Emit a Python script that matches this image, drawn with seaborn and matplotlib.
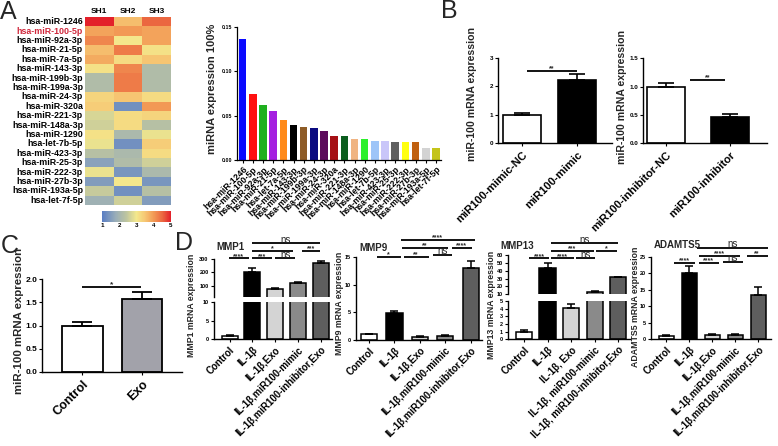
import numpy as np
import pandas as pd
import matplotlib
matplotlib.use("Agg")
import matplotlib.pyplot as plt
import seaborn as sns
from matplotlib.colors import LinearSegmentedColormap
from matplotlib.transforms import blended_transform_factory

# ---------------- data ----------------
mirnas = ["hsa-miR-1246", "hsa-miR-100-5p", "hsa-miR-92a-3p", "hsa-miR-21-5p", "hsa-miR-7a-5p",
          "hsa-miR-143-3p", "hsa-miR-199b-3p", "hsa-miR-199a-3p", "hsa-miR-24-3p", "hsa-miR-320a",
          "hsa-miR-221-3p", "hsa-miR-148a-3p", "hsa-miR-1290", "hsa-let-7b-5p", "hsa-miR-423-3p",
          "hsa-miR-25-3p", "hsa-miR-222-3p", "hsa-miR-27b-3p", "hsa-miR-193a-5p", "hsa-let-7f-5p"]
samples = ["SH1", "SH2", "SH3"]
sh1 = [5.0, 3.9, 4.2, 3.6, 3.8, 3.1, 2.2, 2.2, 3.3, 3.4, 2.7, 2.6, 3.1, 2.9, 2.3, 1.6, 2.9, 1.5, 2.5, 1.9]
sh2 = [3.6, 4.0, 3.0, 4.3, 3.2, 4.2, 4.3, 4.3, 3.5, 1.3, 3.2, 3.2, 2.1, 1.3, 2.1, 2.2, 1.4, 3.0, 1.3, 2.6]
sh3 = [4.5, 3.9, 3.9, 3.1, 3.5, 2.2, 2.2, 2.2, 3.2, 4.0, 3.3, 2.3, 2.9, 3.4, 3.2, 2.6, 2.1, 1.4, 2.3, 1.5]

bar_mirnas = ["hsa-miR-1246", "hsa-miR-100-5p", "hsa-miR-92a-3p", "hsa-miR-21-5p", "hsa-let-7a-5p",
              "hsa-miR-143-3p", "hsa-miR-199b-3p", "hsa-miR-199a-3p", "hsa-miR-24-3p", "hsa-miR-320a",
              "hsa-miR-221-3p", "hsa-miR-148a-3p", "hsa-miR-1290", "hsa-let-7b-5p", "hsa-miR-423-3p",
              "hsa-miR-25-3p", "hsa-miR-222-3p", "hsa-miR-27b-3p", "hsa-miR-193a-5p", "hsa-let-7f-5p"]
mirna_expr = [0.137, 0.074, 0.062, 0.055, 0.045, 0.039, 0.037, 0.036, 0.033, 0.027,
              0.027, 0.024, 0.024, 0.0215, 0.0215, 0.0205, 0.0205, 0.0205, 0.0135, 0.0135]
mirna_colors = ["#0a0aff", "#ff1010", "#1fb01f", "#a51fe0", "#ff8a1a", "#000000", "#8e5c26",
                "#0a0a80", "#5c0a5c", "#a50f15", "#0b5d1e", "#f0b482", "#2cf02c", "#9ec5f8",
                "#c9c6f9", "#606060", "#ffff10", "#c0600f", "#d3d3d3", "#c4c41a"]

mimic_groups = ["miR100-mimic-NC", "miR100-mimic"]
mimic_vals = [1.0, 2.24]
mimic_err = [0.08, 0.19]
inhib_groups = ["miR100-inhibitor-NC", "miR100-inhibitor"]
inhib_vals = [0.99, 0.46]
inhib_err = [0.07, 0.05]

exo_groups = ["Control", "Exo"]
exo_vals = [1.0, 1.57]
exo_err = [0.08, 0.14]

d_groups = ["Control", "IL-1β", "IL-1β,Exo", "IL-1β,miR100-mimic", "IL-1β,miR100-inhibitor,Exo"]
d_groups_13 = ["Control", "IL-1β", "IL-1β, Exo", "IL-1β, miR100-mimic", "IL-1β, miR100-inhibitor,Exo"]
d_colors = ["#ffffff", "#000000", "#d4d4d4", "#8a8a8a", "#5e5e5e"]
mmp1_vals = [1.0, 200.0, 72.0, 123.0, 272.0]
mmp1_err = [0.15, 33.0, 12.0, 4.0, 12.0]
mmp9_vals = [1.0, 4.95, 0.6, 0.75, 13.0]
mmp9_err = [0.1, 0.35, 0.08, 0.12, 1.3]
mmp13_vals = [1.0, 44.0, 4.1, 13.3, 31.5]
mmp13_err = [0.15, 5.5, 0.5, 1.0, 0.7]
adamts5_vals = [1.0, 20.0, 1.4, 1.3, 13.4]
adamts5_err = [0.2, 2.4, 0.2, 0.2, 2.5]

# ---------------- style ----------------
sns.set_theme(style="ticks")
plt.rcParams["font.family"] = ["Liberation Sans", "DejaVu Sans"]
plt.rcParams["font.weight"] = "bold"
plt.rcParams["axes.labelweight"] = "bold"
plt.rcParams["axes.edgecolor"] = "black"
plt.rcParams["xtick.color"] = "black"
plt.rcParams["ytick.color"] = "black"

W, H = 778, 446
fig = plt.figure(figsize=(W / 100, H / 100), dpi=100)
fig.patch.set_facecolor("white")


def rect(x0, y0, x1, y1):
    return [x0 / W, 1 - y1 / H, (x1 - x0) / W, (y1 - y0) / H]


def fy(ypx):
    return 1 - ypx / H


def style_ax(ax, fs=4.5, lw=1.0):
    sns.despine(ax=ax)
    ax.tick_params(axis="both", direction="out", length=2.5, width=0.8, pad=1, labelsize=fs)
    for s in ("left", "bottom"):
        ax.spines[s].set_linewidth(lw)
        ax.spines[s].set_color("black")
    ax.set_xlabel("")
    ax.set_ylabel("")


def bars(ax, labels, vals, colors, width, edge=True, lw=1.1):
    sns.barplot(x=labels, y=vals, hue=labels, order=labels, hue_order=labels, palette=colors,
                width=width, errorbar=None, legend=False, ax=ax, saturation=1,
                edgecolor="black" if edge else "none", linewidth=lw if edge else 0)


def errs(ax, vals, err, cap=3, lw=1.1):
    ax.errorbar(np.arange(len(vals)), vals, yerr=[np.zeros(len(vals)), err], fmt="none",
                ecolor="black", elinewidth=lw, capsize=cap, capthick=lw, zorder=3)


def sig(ax, i, j, ypx, text, fs=5, lw=1.3):
    tr = blended_transform_factory(ax.transData, fig.transFigure)
    ax.plot([i, j], [fy(ypx), fy(ypx)], transform=tr, color="black", lw=lw,
            clip_on=False, solid_capstyle="butt")
    if text == "ns":
        ax.text((i + j) / 2, fy(ypx) + 0.6 / H, text, transform=tr, ha="center", va="baseline",
                fontsize=7, fontweight="normal", clip_on=False)
    else:
        ax.text((i + j) / 2, fy(ypx) + 0.5 / H, text, transform=tr, ha="center", va="baseline",
                fontsize=fs, fontweight="bold", clip_on=False)


def letter(x, y, t):
    fig.text(x / W, fy(y), t, fontsize=18, fontweight="normal", ha="left", va="baseline")


# ---------------- panel A: heatmap ----------------
cmap = LinearSegmentedColormap.from_list(
    "hm", [(0.0, "#5a7ec4"), (0.2, "#9aaeb8"), (0.35, "#bcc4a0"), (0.5, "#f4e88c"),
           (0.62, "#f6c874"), (0.75, "#f29a55"), (0.88, "#eb6640"), (1.0, "#e3202a")])
ax_hm = fig.add_axes(rect(85, 17, 171, 205))
cax = fig.add_axes(rect(102, 211, 171, 222))
df = pd.DataFrame({"SH1": sh1, "SH2": sh2, "SH3": sh3}, index=mirnas)
sns.heatmap(df, ax=ax_hm, cmap=cmap, vmin=1, vmax=5, cbar_ax=cax,
            xticklabels=True, yticklabels=True,
            cbar_kws={"orientation": "horizontal", "ticks": [1, 2, 3, 4, 5]})
ax_hm.xaxis.tick_top()
ax_hm.set_xticks(np.arange(len(samples)) + 0.5)
ax_hm.set_xticklabels(samples, fontsize=6, fontweight="bold")
ax_hm.set_yticks(np.arange(len(mirnas)) + 0.5)
ax_hm.set_yticklabels(mirnas, fontsize=6.4, fontweight="bold", rotation=0)
ax_hm.tick_params(length=0, pad=1.5)
for lab in ax_hm.get_yticklabels():
    if lab.get_text() == "hsa-miR-100-5p":
        lab.set_color("#d0283c")
ax_hm.set_xlabel("")
ax_hm.set_ylabel("")
cax.tick_params(length=0, labelsize=4.5, pad=1)
for sp in cax.spines.values():
    sp.set_visible(False)
cb = ax_hm.collections[0].colorbar
if cb is not None:
    cb.outline.set_linewidth(0)

# ---------------- panel A: bar chart ----------------
ax_a = fig.add_axes(rect(237, 27, 441, 160))
bars(ax_a, bar_mirnas, mirna_expr, mirna_colors, 0.74, edge=False)
style_ax(ax_a, fs=3.8, lw=0.9)
ax_a.set_ylim(0, 0.15)
ax_a.set_xlim(-0.56, 19.5)
ax_a.set_yticks([0, 0.05, 0.10, 0.15])
ax_a.set_yticklabels(["0.00", "0.05", "0.10", "0.15"])
ax_a.set_xticks(range(len(bar_mirnas)))
ax_a.set_xticklabels(bar_mirnas, rotation=45, ha="right", rotation_mode="anchor",
                     fontsize=6.3, fontweight="bold")
ax_a.tick_params(axis="x", length=2, pad=1.5)
fig.text(212 / W, fy(89), "miRNA expression 100%", rotation=90, ha="center", va="center",
         fontsize=8, fontweight="bold")

# ---------------- panel B ----------------
ax_b1 = fig.add_axes(rect(498, 58, 612, 143.3))
bars(ax_b1, mimic_groups, mimic_vals, ["#ffffff", "#000000"], 0.69, lw=1.2)
errs(ax_b1, mimic_vals, mimic_err, cap=6, lw=1.2)
style_ax(ax_b1, fs=4.5)
ax_b1.set_ylim(0, 3)
ax_b1.set_yticks([0, 1, 2, 3])
ax_b1.set_xlim(-0.43, 1.63)
ax_b1.set_xticks(range(2))
ax_b1.set_xticklabels(mimic_groups, rotation=45, ha="right", rotation_mode="anchor",
                      fontsize=8, fontweight="bold")
ax_b1.tick_params(axis="x", pad=2)
sig(ax_b1, 0.1, 1.0, 71, "**", fs=5)
fig.text(472 / W, fy(94), "miR-100 mRNA expression", rotation=90, ha="center", va="center",
         fontsize=7.6, fontweight="bold")

ax_b2 = fig.add_axes(rect(643, 58.3, 767, 143.3))
bars(ax_b2, inhib_groups, inhib_vals, ["#ffffff", "#000000"], 0.59, lw=1.2)
errs(ax_b2, inhib_vals, inhib_err, cap=6, lw=1.2)
style_ax(ax_b2, fs=4.5)
ax_b2.set_ylim(0, 1.5)
ax_b2.set_yticks([0, 0.5, 1.0, 1.5])
ax_b2.set_yticklabels(["0.0", "0.5", "1.0", "1.5"])
ax_b2.set_xlim(-0.36, 1.57)
ax_b2.set_xticks(range(2))
ax_b2.set_xticklabels(inhib_groups, rotation=45, ha="right", rotation_mode="anchor",
                      fontsize=8, fontweight="bold")
ax_b2.tick_params(axis="x", pad=2)
sig(ax_b2, 0.37, 0.92, 80, "**", fs=5)
fig.text(622 / W, fy(97), "miR-100 mRNA expression", rotation=90, ha="center", va="center",
         fontsize=7.6, fontweight="bold")

# ---------------- panel C ----------------
ax_c = fig.add_axes(rect(42, 279, 182, 372))
bars(ax_c, exo_groups, exo_vals, ["#ffffff", "#a2a2aa"], 0.68, lw=1.3)
errs(ax_c, exo_vals, exo_err, cap=7, lw=1.3)
style_ax(ax_c, fs=6)
ax_c.set_ylim(0, 2.0)
ax_c.set_yticks([0, 0.5, 1.0, 1.5, 2.0])
ax_c.set_yticklabels(["0.0", "0.5", "1.0", "1.5", "2.0"])
ax_c.set_xlim(-0.675, 1.67)
ax_c.set_xticks(range(2))
ax_c.set_xticklabels(exo_groups, rotation=45, ha="right", rotation_mode="anchor",
                     fontsize=9, fontweight="bold")
ax_c.tick_params(axis="x", pad=2)
sig(ax_c, 0.0, 0.98, 287, "*", fs=6)
fig.text(19 / W, fy(321), "miR-100 mRNA expression", rotation=90, ha="center", va="center",
         fontsize=8.2, fontweight="bold")


# ---------------- panel D ----------------
def xlabels(ax, labels):
    ax.set_xticks(range(len(labels)))
    ax.set_xticklabels(labels, rotation=45, ha="right", rotation_mode="anchor",
                       fontsize=7, fontweight="bold")
    ax.tick_params(axis="x", pad=1.5)


def single_panel(r, labels, vals, err, width, xlim, ylim, yticks):
    ax = fig.add_axes(r)
    bars(ax, labels, vals, d_colors, width)
    errs(ax, vals, err, cap=3.2)
    style_ax(ax, fs=4.0)
    ax.set_ylim(*ylim)
    ax.set_yticks(yticks)
    ax.set_xlim(*xlim)
    xlabels(ax, labels)
    return ax


def broken_panel(r_top, r_bot, labels, vals, err, width, xlim, ylim_top, yt_top, ylim_bot, yt_bot):
    ax_t = fig.add_axes(r_top)
    ax_b = fig.add_axes(r_bot)
    for ax in (ax_t, ax_b):
        bars(ax, labels, vals, d_colors, width)
        errs(ax, vals, err, cap=3.2)
        style_ax(ax, fs=4.0)
        ax.set_xlim(*xlim)
    ax_t.set_ylim(*ylim_top)
    ax_t.set_yticks(yt_top)
    ax_t.spines["bottom"].set_visible(False)
    ax_t.tick_params(axis="x", bottom=False, labelbottom=False)
    ax_b.set_ylim(*ylim_bot)
    ax_b.set_yticks(yt_bot)
    xlabels(ax_b, labels)
    return ax_t, ax_b


# MMP1
m1_t, m1_b = broken_panel(rect(213.5, 259, 332, 297), rect(213.5, 302, 332, 339.3),
                          d_groups, mmp1_vals, mmp1_err, 0.7, (-0.71, 4.49),
                          (15, 300), [100, 200, 300], (0, 10), [0, 5, 10])
sig(m1_t, 0.98, 3.95, 243.5, "ns")
sig(m1_t, 0.98, 2.8, 250.7, "*")
sig(m1_t, 3.17, 3.95, 250.7, "***")
sig(m1_t, -0.05, 0.83, 258.3, "****")
sig(m1_t, 0.98, 1.85, 258.3, "***")
sig(m1_t, 2.0, 2.88, 258.3, "ns")
fig.text(216 / W, fy(250), "MMP1", fontsize=7, fontweight="bold", ha="left", va="baseline")
fig.text(192 / W, fy(305), "MMP1 mRNA expression", rotation=90, ha="center", va="center",
         fontsize=6.3, fontweight="bold")

# MMP9
m9 = single_panel(rect(356, 257, 482, 340), d_groups, mmp9_vals, mmp9_err, 0.64,
                  (-0.51, 4.44), (0, 15), [0, 5, 10, 15])
sig(m9, 1.25, 4.15, 240, "****")
sig(m9, 1.3, 3.1, 248, "**")
sig(m9, 3.25, 4.05, 248, "****")
sig(m9, 0.3, 1.25, 257, "*")
sig(m9, 1.37, 2.34, 257, "**")
sig(m9, 2.5, 3.28, 255, "ns")
fig.text(359 / W, fy(251), "MMP9", fontsize=7, fontweight="bold", ha="left", va="baseline")
fig.text(340 / W, fy(303), "MMP9 mRNA expression", rotation=90, ha="center", va="center",
         fontsize=6.3, fontweight="bold")

# MMP13
m13_t, m13_b = broken_panel(rect(508, 255, 630, 294.3), rect(508, 301, 630, 339.3),
                            d_groups_13, mmp13_vals, mmp13_err, 0.7, (-0.69, 4.5),
                            (10, 60), [10, 20, 30, 40, 50, 60], (0, 5), [0, 1, 2, 3, 4, 5])
sig(m13_t, 1.13, 3.97, 243.5, "ns")
sig(m13_t, 1.13, 2.95, 250.7, "***")
sig(m13_t, 3.07, 3.94, 250.7, "*")
sig(m13_t, 0.21, 1.05, 258.3, "****")
sig(m13_t, 1.16, 2.11, 258.3, "****")
sig(m13_t, 2.22, 3.03, 258.3, "ns")
fig.text(500 / W, fy(249), "MMP13", fontsize=7, fontweight="bold", ha="left", va="baseline")
fig.text(492 / W, fy(305), "MMP13 mRNA expression", rotation=90, ha="center", va="center",
         fontsize=6.3, fontweight="bold")

# ADAMTS5
ad = single_panel(rect(651, 257, 771, 339.3), d_groups, adamts5_vals, adamts5_err, 0.67,
                  (-0.67, 4.55), (0, 25), [0, 5, 10, 15, 20, 25])
sig(ad, 1.35, 4.4, 248, "ns")
sig(ad, 1.4, 3.2, 256, "****")
sig(ad, 3.5, 4.4, 256, "**")
sig(ad, 0.35, 1.25, 263, "****")
sig(ad, 1.4, 2.3, 263, "****")
sig(ad, 2.45, 3.33, 262, "ns")
fig.text(654 / W, fy(248), "ADAMTS5", fontsize=7, fontweight="bold", ha="left", va="baseline")
fig.text(636 / W, fy(307), "ADAMTS5 mRNA expression", rotation=90, ha="center", va="center",
         fontsize=6.3, fontweight="bold")

# ---------------- panel letters ----------------
letter(0, 19, "A")
letter(441, 18, "B")
letter(1, 253, "C")
letter(175, 250, "D")

fig.savefig("out.png", dpi=100, facecolor="white")
